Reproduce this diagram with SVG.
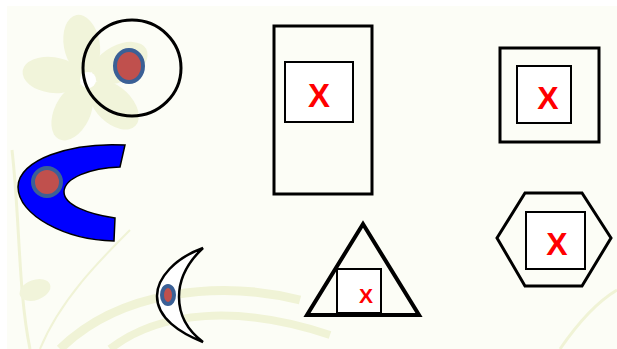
<svg xmlns="http://www.w3.org/2000/svg" width="617" height="349" viewBox="0 0 617 349">
<style>
.bg{fill:#fcfdf6}
.deco{fill:#f1f4da}
.decoS{fill:none;stroke:#f0f3d6}
.outline{fill:none;stroke:#000;stroke-width:3}
.box{fill:#fff;stroke:#000;stroke-width:2}
.x{font-family:"Liberation Sans",Arial,sans-serif;font-weight:bold;fill:#ff0000;text-anchor:middle}
.dot{fill:#c0504d;stroke:#3b6096;stroke-width:4}
</style>
<rect width="617" height="349" fill="#ffffff"/>
<rect class="bg" x="7" y="6" width="610" height="343"/>
<g id="background">
  <g transform="translate(88,80)">
    <ellipse class="deco" cx="0" cy="-36" rx="18" ry="30" transform="rotate(-10)"/>
    <ellipse class="deco" cx="0" cy="-36" rx="18" ry="30" transform="rotate(62)"/>
    <ellipse class="deco" cx="0" cy="-36" rx="18" ry="30" transform="rotate(134)"/>
    <ellipse class="deco" cx="0" cy="-36" rx="18" ry="30" transform="rotate(206)"/>
    <ellipse class="deco" cx="0" cy="-36" rx="18" ry="30" transform="rotate(278)"/>
    <circle cx="0" cy="0" r="8" fill="#ffffff"/>
  </g>
  <path class="decoS" stroke-width="3" d="M12,150 C20,220 18,290 30,349"/>
  <path class="decoS" stroke-width="2" d="M40,349 C60,300 100,260 130,230"/>
  <ellipse class="deco" cx="35" cy="290" rx="16" ry="10" transform="rotate(-20 35 290)"/>
  <path class="decoS" stroke-width="9" d="M60,349 C120,290 220,280 300,300"/>
  <path class="decoS" stroke-width="8" d="M110,349 C160,310 240,305 330,335"/>
  <path class="decoS" stroke-width="3" d="M560,349 C580,320 600,300 617,290"/>
</g>
<g id="connectors"></g>
<g id="circle-node">
  <ellipse cx="132" cy="68" rx="49" ry="48" class="outline" stroke-width="2.5"/>
  <ellipse class="dot" cx="129" cy="66" rx="14" ry="16"/>
</g>
<g id="c-node">
  <path d="M125,145 C70,142 18,160 18,187 C18,215 65,240 114,241 L115,218 C88,214 64,205 64,192 C64,178 90,168 120,167 Z" fill="#0000ff" stroke="#000" stroke-width="1.5"/>
  <ellipse class="dot" cx="47" cy="182" rx="14" ry="14"/>
</g>
<g id="crescent-node">
  <path d="M203,248 C175,258 157,278 157,296 C157,318 180,333 203,342 C187,330 179,315 179,297 C179,279 188,262 203,248 Z" fill="#ffffff" stroke="#000" stroke-width="2.5"/>
  <ellipse cx="168" cy="295" rx="6" ry="9" fill="#c0504d" stroke="#3b6096" stroke-width="4"/>
</g>
<g id="tall-rect-node">
  <rect class="outline" x="274" y="26" width="98" height="168"/>
  <rect class="box" x="285" y="62" width="68" height="60"/>
  <text class="x" x="319" y="107" font-size="33">X</text>
</g>
<g id="square-node">
  <rect class="outline" x="500" y="48" width="99" height="94"/>
  <rect class="box" x="517" y="66" width="54" height="57"/>
  <text class="x" x="548" y="109" font-size="32">X</text>
</g>
<g id="triangle-node">
  <polygon points="363,224 307,315 419,315" fill="none" stroke="#000" stroke-width="4" stroke-linejoin="miter"/>
  <rect class="box" x="337" y="269" width="44" height="44"/>
  <text class="x" x="366" y="303" font-size="21">X</text>
</g>
<g id="hexagon-node">
  <polygon points="525,193 582,193 611,238 582,286 525,286 497,238" fill="none" stroke="#000" stroke-width="3"/>
  <rect class="box" x="526" y="212" width="59" height="57"/>
  <text class="x" x="557" y="255" font-size="32">X</text>
</g>
</svg>
